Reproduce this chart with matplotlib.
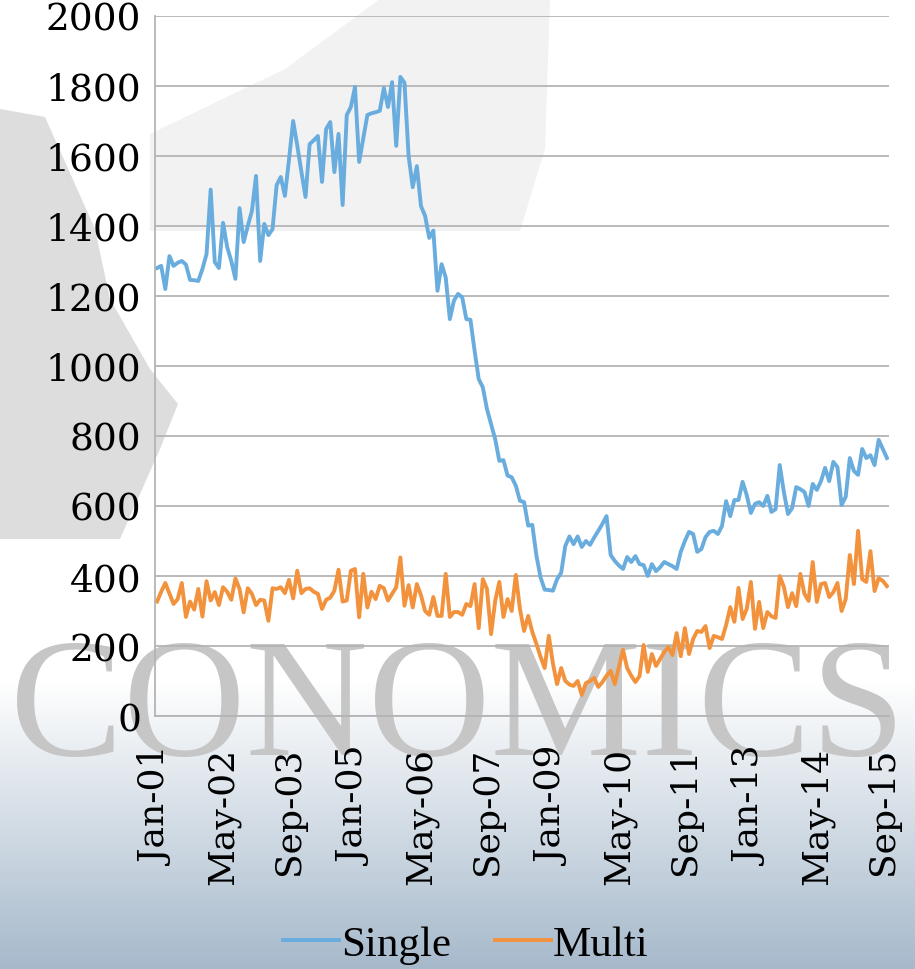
import numpy as np
import matplotlib.pyplot as plt
from matplotlib.patches import Polygon
from matplotlib.colors import LinearSegmentedColormap

# Monthly housing starts (thousands), Jan-2001 .. Oct-2015
single = [
    1280, 1286, 1220, 1314, 1286, 1295, 1300, 1290, 1246, 1245,
    1243, 1277, 1320, 1504, 1297, 1280, 1409, 1340, 1300, 1249,
    1451, 1354, 1400, 1443, 1543, 1300, 1406, 1374, 1391, 1517,
    1540, 1486, 1590, 1700, 1630, 1555, 1483, 1634, 1645, 1657,
    1526, 1677, 1697, 1554, 1663, 1460, 1717, 1740, 1797, 1583,
    1650, 1717, 1722, 1725, 1729, 1794, 1740, 1811, 1629, 1826,
    1809, 1600, 1511, 1571, 1457, 1429, 1366, 1387, 1215, 1291,
    1253, 1134, 1187, 1206, 1196, 1134, 1132, 1044, 963, 939,
    877, 834, 791, 729, 731, 687, 682, 658, 615, 611,
    544, 546, 458, 396, 361, 360, 358, 391, 409, 486,
    513, 491, 513, 483, 500, 489, 510, 529, 549, 571,
    460, 443, 430, 420, 454, 440, 457, 434, 431, 400,
    434, 414, 425, 440, 434, 428, 420, 469, 500, 526,
    520, 469, 477, 511, 526, 529, 520, 543, 614, 571,
    617, 617, 669, 631, 580, 606, 611, 600, 629, 583,
    591, 717, 640, 577, 594, 654, 648, 640, 600, 663,
    646, 671, 709, 671, 726, 711, 603, 626, 737, 700,
    689, 763, 737, 745, 717, 789, 763, 737,
]
multi = [
    327, 355, 380, 350, 320, 334, 380, 283, 327, 304,
    363, 284, 385, 330, 354, 317, 368, 355, 332, 393,
    363, 296, 365, 349, 317, 332, 330, 272, 365, 363,
    368, 351, 389, 336, 415, 351, 363, 365, 355, 349,
    306, 332, 338, 358, 418, 327, 330, 415, 420, 282,
    406, 310, 355, 334, 372, 365, 330, 349, 368, 453,
    315, 374, 310, 377, 345, 300, 289, 340, 286, 286,
    406, 283, 297, 297, 289, 320, 314, 377, 251, 391,
    363, 234, 329, 383, 283, 334, 300, 403, 306, 243,
    286, 240, 206, 169, 137, 229, 150, 91, 137, 100,
    90, 86, 100, 60, 94, 100, 109, 83, 97, 115,
    129, 91, 140, 189, 137, 115, 97, 114, 203, 126,
    177, 143, 163, 183, 197, 174, 237, 171, 251, 177,
    220, 243, 240, 257, 194, 229, 225, 220, 260, 311,
    269, 366, 277, 306, 383, 249, 326, 251, 297, 285,
    280, 400, 369, 311, 351, 314, 406, 349, 329, 440,
    326, 377, 380, 340, 354, 380, 300, 334, 460, 377,
    529, 391, 383, 471, 357, 394, 386, 371,
]
tick_labels = ["Jan-01", "May-02", "Sep-03", "Jan-05", "May-06", "Sep-07",
               "Jan-09", "May-10", "Sep-11", "Jan-13", "May-14", "Sep-15"]
label_step = 16

W, H = 915, 970
fig = plt.figure(figsize=(W / 100, H / 100), dpi=100)

# background: gradient, watermark shapes and text (pixel coords)
bg = fig.add_axes([0, 0, 1, 1], zorder=-5)
grad = np.ones((H, 1))
rows = np.arange(H)
grad[:, 0] = np.clip((rows - 680) / (H - 680), 0, 1)
cmap = LinearSegmentedColormap.from_list("bgc", ["#ffffff", "#a6b9cb"])
bg.imshow(grad, cmap=cmap, aspect="auto", extent=(0, W, H, 0), vmin=0, vmax=1)
bg.add_patch(Polygon([(150, 135), (285, 70), (380, 0), (550, 0), (545, 150),
                      (520, 232), (150, 232)], closed=True, fc="#f2f2f2", ec="none"))
bg.add_patch(Polygon([(0, 110), (45, 118), (95, 230), (110, 300), (150, 370),
                      (178, 405), (160, 450), (120, 540), (0, 540)],
                     closed=True, fc="#dddddd", ec="none"))
bg.text(458, 714, "CONOMICS", fontsize=122, family="Liberation Serif",
        color="#c6c6c6", ha="center", va="center")
bg.set_xlim(0, W)
bg.set_ylim(H, 0)
bg.axis("off")

# main chart
ax = fig.add_axes([155 / W, 1 - 717 / H, 734 / W, 700 / H])
ax.set_facecolor("none")
x = np.arange(len(single))
ax.plot(x, single, color="#69acde", lw=2.8, label="Single", solid_joinstyle="round")
ax.plot(x, multi, color="#f3923d", lw=2.8, label="Multi", solid_joinstyle="round")

ax.set_xlim(-0.5, len(single) - 0.5)
ax.set_ylim(0, 2000)
ax.set_yticks(range(0, 2001, 200))
ax.set_xticks(x[::label_step])
ax.set_xticklabels(tick_labels, rotation=90, family="DejaVu Serif", fontsize=26)
for lab in ax.get_yticklabels():
    lab.set_family("DejaVu Serif")
    lab.set_fontsize(27)
ax.tick_params(axis="x", length=0, pad=22)
ax.tick_params(axis="y", length=0, pad=10)
ax.grid(axis="y", color="#b4b4b4", lw=1.3)
ax.set_axisbelow(True)
for s in ["top", "right"]:
    ax.spines[s].set_visible(False)
ax.spines["left"].set_color("#b4b4b4")
ax.spines["bottom"].set_color("#b4b4b4")
ax.spines["left"].set_linewidth(1.3)
ax.spines["bottom"].set_linewidth(1.3)

fig.legend(loc="center", bbox_to_anchor=(466 / W, 1 - 945 / H), ncol=2,
           frameon=False, prop={"family": "Liberation Serif", "size": 31},
           handlelength=1.3, handletextpad=0.05, columnspacing=1.0)

fig.savefig("out.png", dpi=100)
